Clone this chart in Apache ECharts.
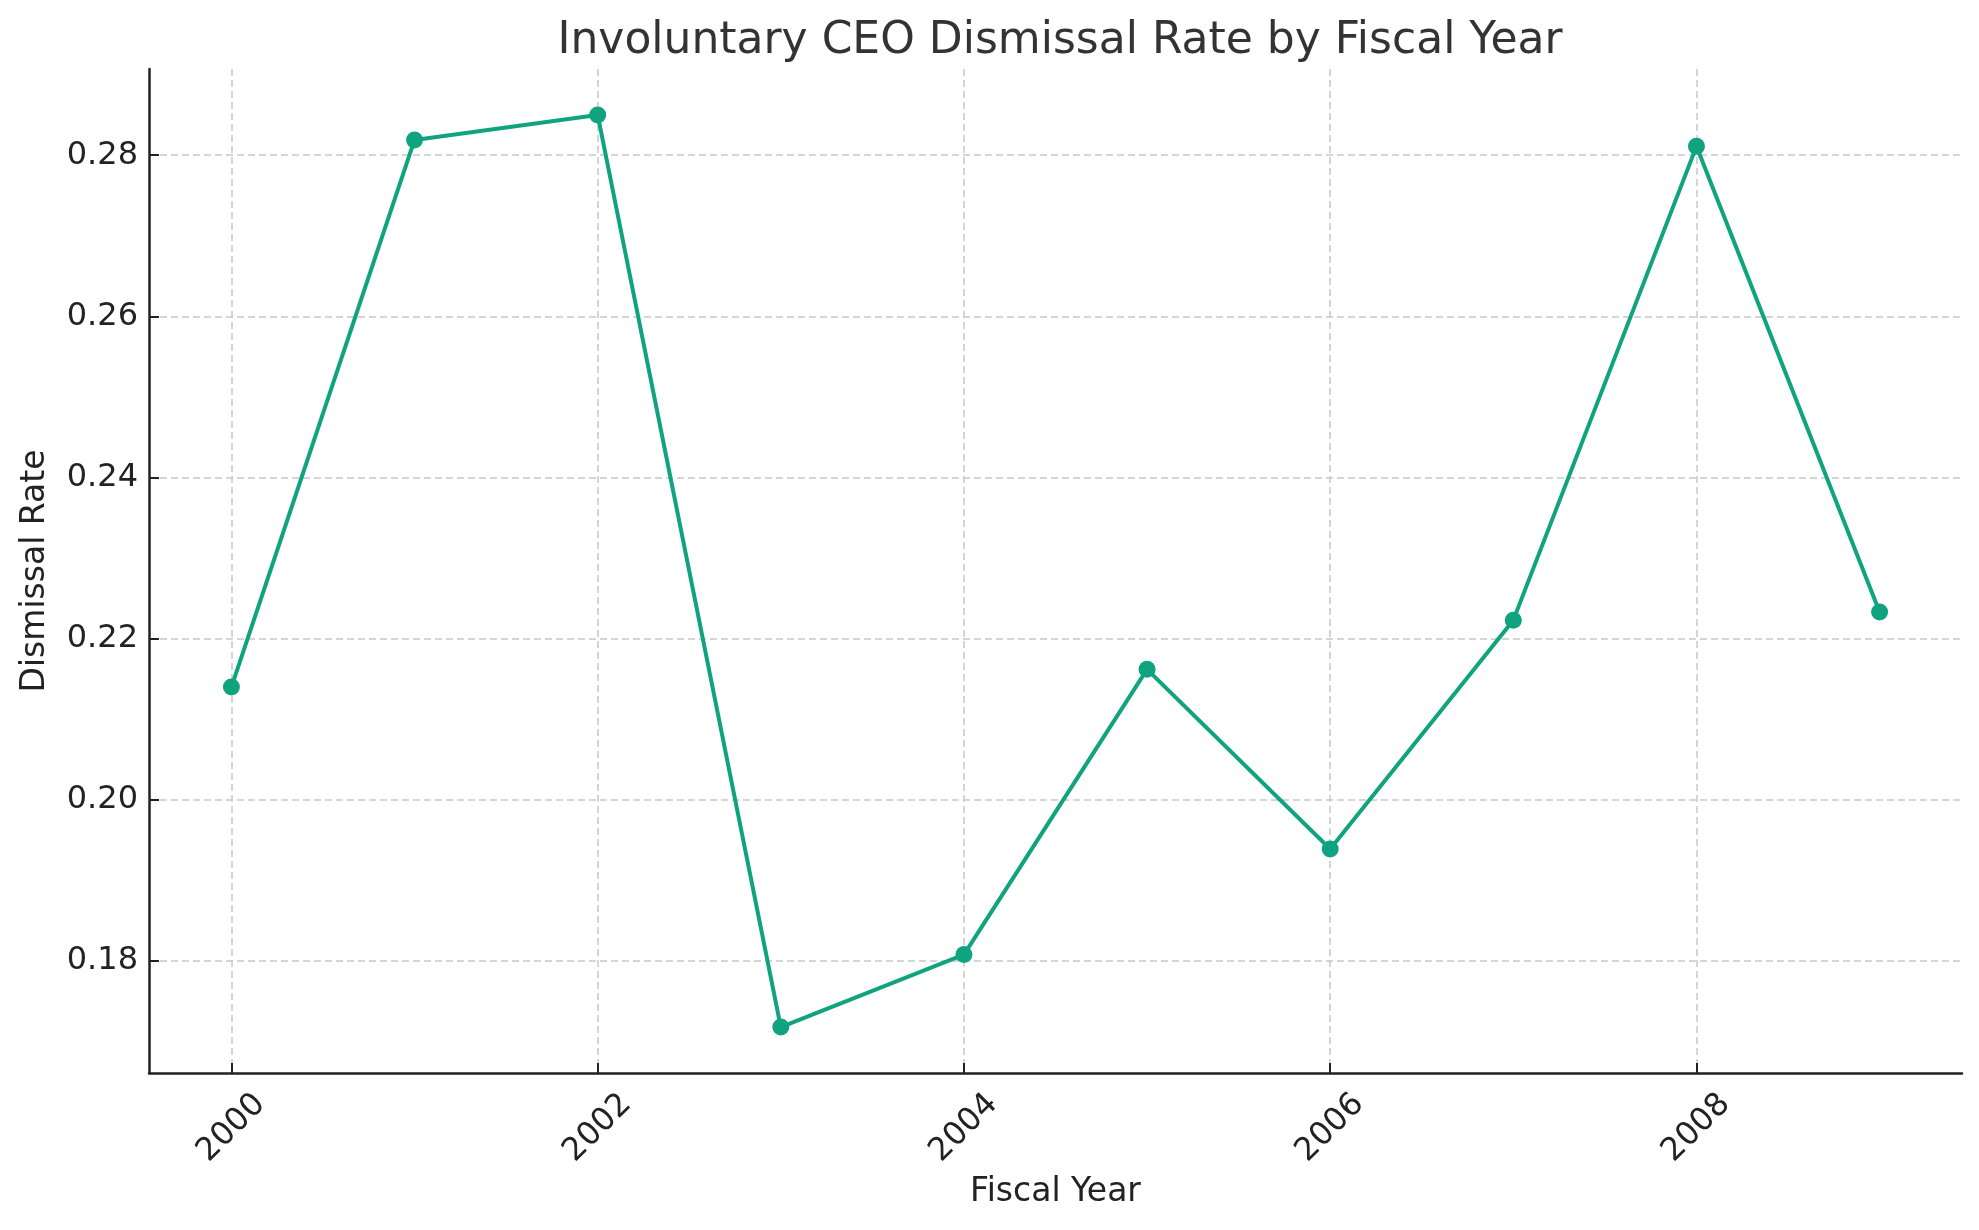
<!DOCTYPE html>
<html>
<head>
<meta charset="utf-8">
<script src="https://cdn.jsdelivr.net/npm/echarts@6/dist/echarts.min.js"></script>
<style>
html,body{margin:0;padding:0;background:#fff;}
#chart{width:1979px;height:1230px;}
</style>
</head>
<body>
<div id="chart"></div>
<script>
const years = [2000, 2001, 2002, 2003, 2004, 2005, 2006, 2007, 2008, 2009];
const rates = [0.2140, 0.2819, 0.2850, 0.1718, 0.1808, 0.2162, 0.1939, 0.2223, 0.2811, 0.2233];
const xTicks = [2000, 2002, 2004, 2006, 2008];
const yTicks = [0.18, 0.20, 0.22, 0.24, 0.26, 0.28];

const font = 'DejaVu Sans';
const chart = echarts.init(document.getElementById('chart'), null, {renderer: 'canvas'});
const data = years.map((y, i) => [y, rates[i]]);
chart.setOption({
  animation: false,
  backgroundColor: '#ffffff',
  title: {
    text: 'Involuntary CEO Dismissal Rate by Fiscal Year',
    left: 1055, top: 15, textAlign: 'center',
    textStyle: {fontFamily: font, fontSize: 44, fontWeight: 'normal', color: '#333333'}
  },
  grid: {left: 149, right: 17, top: 69, bottom: 157},
  xAxis: {
    type: 'value', min: 1999.55, max: 2009.45,
    name: 'Fiscal Year', nameLocation: 'middle', nameGap: 103,
    nameTextStyle: {fontFamily: font, fontSize: 33, color: '#222222'},
    axisLine: {show: true, onZero: false, lineStyle: {color: '#222222', width: 2.5}},
    axisTick: {show: true, inside: true, length: 10, customValues: xTicks, lineStyle: {color: '#222222', width: 2}},
    axisLabel: {customValues: xTicks, rotate: 45, margin: 55, align: 'center', verticalAlign: 'middle',
      fontFamily: font, fontSize: 32, color: '#222222',
      formatter: v => String(Math.round(v))},
    splitLine: {show: true, lineStyle: {color: '#c8c8c8', type: [7, 4], width: 1.5}}
  },
  yAxis: {
    type: 'value', min: 0.1661, max: 0.2907,
    name: 'Dismissal Rate', nameLocation: 'middle', nameGap: 97, nameRotate: 90,
    nameTextStyle: {fontFamily: font, fontSize: 33, color: '#222222'},
    axisLine: {show: true, onZero: false, lineStyle: {color: '#222222', width: 2.5}},
    axisTick: {show: true, inside: true, length: 10, customValues: yTicks, lineStyle: {color: '#222222', width: 2}},
    axisLabel: {customValues: yTicks, margin: 11, fontFamily: font, fontSize: 32, color: '#222222',
      formatter: v => v.toFixed(2)},
    splitLine: {show: true, lineStyle: {color: '#c8c8c8', type: [7, 4], width: 1.5}}
  },
  series: [{
    type: 'line', data: data,
    symbol: 'circle', symbolSize: 17,
    itemStyle: {color: '#10a37f'},
    lineStyle: {color: '#10a37f', width: 4}
  }]
});
</script>
</body>
</html>
